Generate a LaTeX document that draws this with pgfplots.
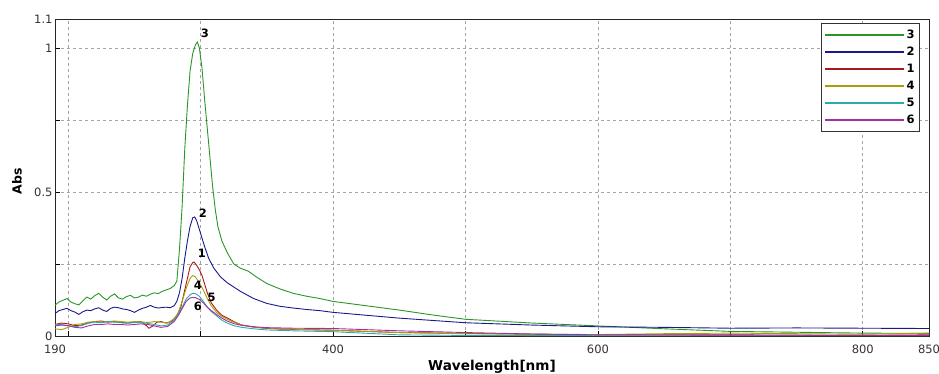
\documentclass[border=0pt]{standalone}
\usepackage{fontspec}
\setmainfont{DejaVu Sans}
\usepackage{pgfplots}
\pgfplotsset{compat=1.18}
\definecolor{cthree}{RGB}{40,150,40}
\definecolor{ctwo}{RGB}{25,25,140}
\definecolor{cone}{RGB}{170,25,25}
\definecolor{cfour}{RGB}{165,160,10}
\definecolor{cfive}{RGB}{45,170,170}
\definecolor{csix}{RGB}{165,45,165}
\definecolor{gridc}{RGB}{165,165,165}
\begin{document}
\begin{tikzpicture}
\begin{axis}[
  width=874bp, height=317bp, scale only axis,
  xmin=190, xmax=850, ymin=0, ymax=1.1,
  /pgf/number format/assume math mode=true,
  tick label style={font=\fontsize{11.5bp}{12bp}\selectfont, text=black!80},
  xtick={200,300,400,500,600,700,800},
  xticklabels={,,400,,600,,800},
  extra x ticks={190,850},
  extra x tick labels={190,850},
  extra x tick style={grid=none, major tick length=0pt},
  ytick={0.25,0.5,0.75,1},
  yticklabels={,0.5,,1},
  extra y ticks={0,1.1},
  extra y tick labels={0,1.1},
  extra y tick style={grid=none, major tick length=0pt},
  xticklabel style={yshift=-5bp},
  yticklabel style={xshift=1bp},
  tick pos=left, tick align=inside, major tick length=5bp,
  tick style={black, line width=0.6bp},
  grid=major,
  grid style={gridc, dash pattern=on 3bp off 3bp, line width=0.6bp},
  axis line style={black!85, line width=0.8bp},
  xlabel={\bfseries Wavelength[nm]},
  ylabel={\bfseries Abs},
  every axis x label/.style={at={(axis description cs:0.5,-0.1094)}, anchor=base, font=\fontsize{13.6bp}{15bp}\selectfont},
  every axis y label/.style={at={(axis description cs:-0.0435,0.489)}, rotate=90, anchor=center, font=\fontsize{12.5bp}{13bp}\selectfont},
  legend style={at={(axis description cs:0.9897,0.987)}, anchor=north east,
    draw=black!80, line width=0.8bp, fill=white,
    font=\bfseries\fontsize{11.5bp}{12bp}\selectfont,
    inner xsep=3bp, inner ysep=3bp, row sep=0bp,
    nodes={inner xsep=2bp, inner ysep=0bp, minimum height=17bp, text height=8bp}},
  legend image code/.code={\draw[#1, line width=1.3bp] (0bp,0bp) -- (79bp,0bp);},
  legend cell align=left,
  every axis plot/.append style={line width=0.9bp},
]
% 3
\addplot[cthree] coordinates {
(190,0.107) (193,0.118) (196,0.124) (199,0.130) (202,0.118) (205,0.112) (208,0.108)
(211,0.122) (214,0.135) (217,0.128) (220,0.140) (223,0.148) (226,0.135) (229,0.125)
(232,0.138) (235,0.146) (238,0.132) (241,0.128) (244,0.137) (247,0.141) (250,0.132)
(253,0.135) (256,0.142) (259,0.138) (262,0.145) (265,0.150) (268,0.147) (271,0.155)
(274,0.160) (277,0.165) (280,0.175) (282,0.190) (284,0.300) (286,0.450) (288,0.650)
(290,0.800) (292,0.920) (294,0.980) (296,1.010) (297.5,1.020) (299,1.000) (301,0.930)
(303,0.820) (305,0.720) (307,0.620) (309,0.520) (311,0.440) (313,0.380) (316,0.330)
(320,0.290) (325,0.250) (330,0.235) (336,0.225) (342,0.205) (350,0.182) (360,0.163)
(370,0.148) (380,0.138) (390,0.130) (400,0.120) (425,0.105) (450,0.090) (475,0.073)
(500,0.058) (550,0.045) (600,0.035) (650,0.025) (700,0.016) (750,0.013) (800,0.010) (850,0.009)
};
\addlegendentry{3}
% 2
\addplot[ctwo] coordinates {
(190,0.078) (193,0.088) (196,0.092) (199,0.096) (202,0.088) (205,0.083) (208,0.075)
(211,0.084) (214,0.090) (217,0.088) (220,0.094) (223,0.098) (226,0.090) (229,0.085)
(232,0.096) (235,0.100) (238,0.098) (241,0.094) (244,0.092) (247,0.088) (250,0.082)
(253,0.090) (256,0.096) (259,0.100) (262,0.106) (265,0.100) (268,0.097) (271,0.099)
(274,0.100) (277,0.098) (280,0.105) (282,0.120) (284,0.150) (286,0.200) (288,0.270)
(290,0.330) (292,0.380) (294,0.410) (295.5,0.413) (297,0.400) (299,0.370) (301,0.340)
(303,0.310) (306,0.270) (310,0.235) (315,0.205) (320,0.185) (325,0.170) (330,0.155)
(340,0.130) (350,0.113) (360,0.103) (370,0.097) (380,0.092) (390,0.088) (400,0.082)
(450,0.062) (500,0.046) (550,0.038) (600,0.032) (650,0.030) (700,0.027) (750,0.028)
(800,0.027) (850,0.026)
};
\addlegendentry{2}
% 1
\addplot[cone] coordinates {
(190,0.040) (195,0.045) (200,0.042) (205,0.036) (210,0.038) (215,0.045) (220,0.050)
(225,0.052) (230,0.048) (235,0.050) (240,0.047) (245,0.045) (250,0.048) (255,0.050)
(258,0.040) (261,0.027) (264,0.035) (267,0.048) (270,0.050) (274,0.045) (278,0.050)
(282,0.070) (285,0.100) (288,0.160) (290,0.200) (292,0.240) (294,0.255) (295,0.257)
(297,0.245) (299,0.230) (301,0.210) (303,0.180) (305,0.150) (308,0.115) (312,0.090)
(316,0.072) (320,0.063) (325,0.050) (331,0.038) (340,0.031) (348,0.027) (360,0.024)
(380,0.022) (400,0.020) (450,0.012) (500,0.009) (550,0.006) (600,0.004) (700,0.004)
(800,0.002) (850,0.004)
};
\addlegendentry{1}
% 4
\addplot[cfour] coordinates {
(190,0.025) (195,0.022) (200,0.030) (205,0.040) (210,0.042) (215,0.048) (220,0.050)
(225,0.048) (230,0.050) (235,0.052) (240,0.050) (245,0.048) (250,0.050) (255,0.049)
(260,0.047) (265,0.050) (270,0.048) (275,0.045) (280,0.060) (283,0.080) (286,0.120)
(289,0.165) (292,0.200) (294,0.210) (296,0.205) (299,0.185) (302,0.160) (305,0.130)
(308,0.105) (312,0.082) (316,0.068) (320,0.058) (325,0.048) (331,0.038) (340,0.031)
(348,0.028) (360,0.025) (380,0.022) (400,0.020) (450,0.012) (500,0.008) (600,0.005)
(650,0.008) (700,0.010) (750,0.008) (800,0.006) (850,0.010)
};
\addlegendentry{4}
% 5
\addplot[cfive] coordinates {
(190,0.040) (195,0.040) (200,0.035) (205,0.032) (210,0.036) (215,0.044) (220,0.048)
(225,0.046) (230,0.050) (235,0.048) (240,0.046) (245,0.044) (250,0.047) (255,0.046)
(260,0.044) (265,0.040) (270,0.035) (275,0.038) (280,0.055) (283,0.075) (286,0.100)
(289,0.128) (292,0.143) (294,0.148) (296,0.147) (299,0.138) (302,0.120) (305,0.100)
(308,0.085) (312,0.070) (316,0.055) (320,0.045) (325,0.036) (331,0.030) (340,0.025)
(350,0.021) (370,0.018) (400,0.015) (450,0.004) (500,0.002) (600,0.001) (700,0.001) (850,0.001)
};
\addlegendentry{5}
% 6
\addplot[csix] coordinates {
(190,0.035) (195,0.038) (200,0.036) (205,0.030) (210,0.028) (215,0.035) (220,0.040)
(225,0.040) (230,0.042) (235,0.040) (240,0.040) (245,0.038) (250,0.040) (255,0.042)
(260,0.040) (265,0.035) (270,0.030) (275,0.033) (280,0.050) (283,0.070) (286,0.095)
(289,0.120) (292,0.132) (294,0.134) (296,0.133) (299,0.127) (302,0.115) (305,0.100)
(308,0.088) (312,0.075) (316,0.062) (320,0.052) (325,0.043) (331,0.037) (340,0.032)
(350,0.029) (370,0.027) (400,0.026) (450,0.018) (500,0.012) (550,0.007) (600,0.004)
(700,0.003) (800,0.002) (850,0.002)
};
\addlegendentry{6}
% peak labels
\begin{scope}[every node/.style={font=\bfseries\fontsize{11.5bp}{12bp}\selectfont, inner sep=0pt}]
\node at (axis cs:303.1,1.052) {3};
\node at (axis cs:301.6,0.426) {2};
\node at (axis cs:301.0,0.287) {1};
\node at (axis cs:297.9,0.177) {4};
\node at (axis cs:308.2,0.133) {5};
\node at (axis cs:297.9,0.104) {6};
\end{scope}
\node[anchor=base, font=\fontsize{14bp}{14bp}\selectfont, inner sep=0pt] at (axis description cs:0.4757,1.0044) {–};
\coordinate (SW) at (rel axis cs:0,0);
\coordinate (NE) at (rel axis cs:1,1);
\end{axis}
\pgfresetboundingbox
\useasboundingbox ([shift={(-55bp,-38bp)}]SW) rectangle ([shift={(10bp,19bp)}]NE);
\end{tikzpicture}
\end{document}
